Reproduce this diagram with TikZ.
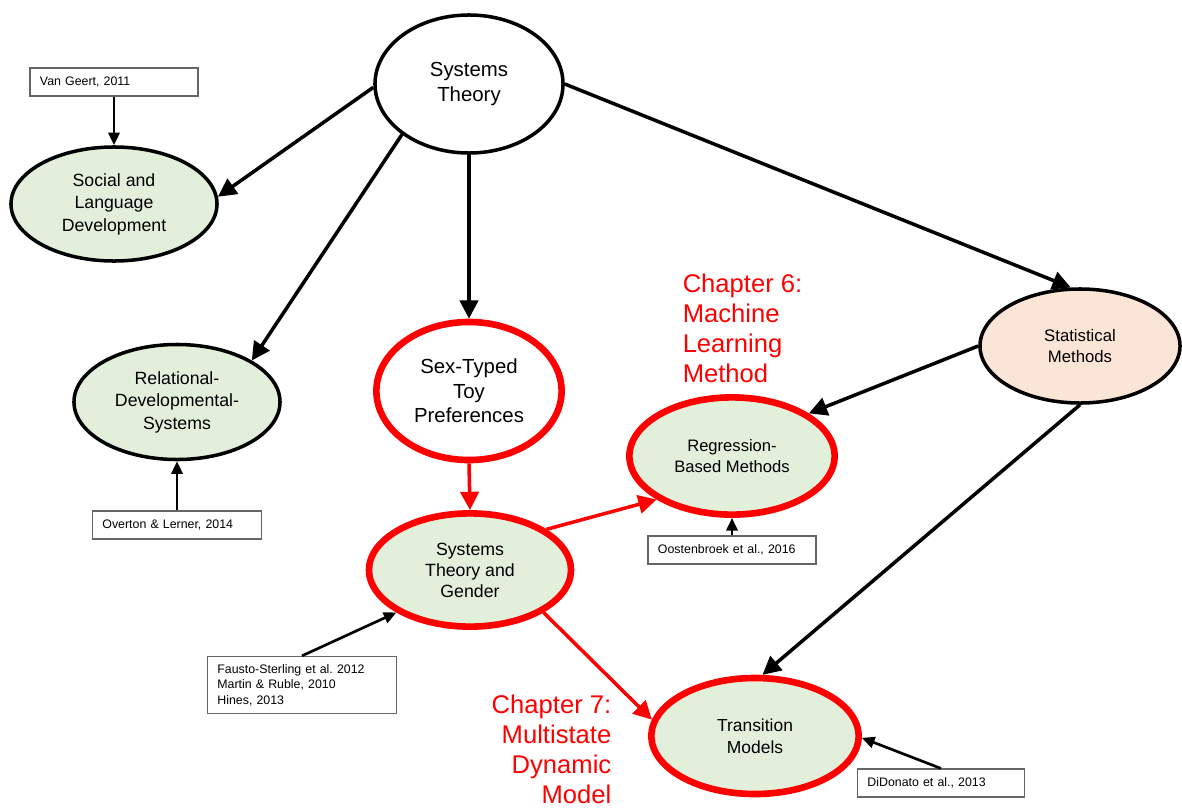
\documentclass[tikz,border=0pt]{standalone}
\usepackage{fontspec}
\setmainfont{Liberation Sans}
\usepackage{xcolor}
\usetikzlibrary{
    arrows.meta,
    shapes.geometric
}
\definecolor{topicgreen}{HTML}{E2EFDA}
\definecolor{methodpeach}{HTML}{FBE5D6}
\frenchspacing

\begin{document}
\begin{tikzpicture}[x=0.025cm,y=-0.025cm,->,>={Triangle[length=13pt,width=13pt]},line width=2.5pt]
    \tikzstyle{every node}=[align=center, inner sep=0pt]
    \tikzstyle{topic}=[ellipse, draw, line width=2.5pt, fill=topicgreen, font=\fontsize{12.6}{16}\selectfont]
    \tikzstyle{focus}=[topic, draw=red, line width=4.7pt]
    \tikzstyle{cite}=[rectangle, draw=black!60, line width=0.8pt, fill=white, inner xsep=0.25cm, minimum height=0.7cm, align=left, font=\fontsize{8.8}{11}\selectfont]
    \tikzstyle{citearrow}=[line width=1.9pt, -{Triangle[length=9pt,width=8pt]}]
    \tikzstyle{chapter}=[text=red, font=\fontsize{18.2}{21.3}\selectfont]
    \useasboundingbox (0,0) rectangle (1182,809);
    \node[topic, fill=white, minimum width=4.7cm, minimum height=3.45cm, font=\fontsize{14.5}{17.8}\selectfont] (sys) at (469,84) {Systems\\Theory};
    \node[topic, minimum width=5.15cm, minimum height=2.85cm] (social) at (114,204) {Social and\\Language\\Development};
    \node[topic, minimum width=5.15cm, minimum height=2.875cm] (rds) at (177,402) {Relational-\\Developmental-\\Systems};
    \node[focus, fill=white, minimum width=4.63cm, minimum height=3.45cm, font=\fontsize{14.5}{17.4}\selectfont] (sttp) at (469,391) {Sex-Typed\\Toy\\Preferences};
    \node[focus, minimum width=5.05cm, minimum height=2.83cm, font=\fontsize{12.6}{15}\selectfont] (stg) at (470,570) {Systems\\Theory and\\Gender};
    \node[topic, fill=methodpeach, minimum width=5cm, minimum height=2.85cm, font=\fontsize{11.9}{15}\selectfont] (stat) at (1080,346) {Statistical\\Methods};
    \node[focus, minimum width=5.13cm, minimum height=2.93cm, font=\fontsize{11.8}{14.7}\selectfont] (reg) at (732,456) {Regression-\\Based Methods};
    \node[focus, minimum width=5.18cm, minimum height=2.9cm, font=\fontsize{12.4}{15.6}\selectfont] (trans) at (755,736) {Transition\\Models};
    \node[cite, text width=3.7cm] (vg) at (114,82) {Van Geert, 2011};
    \node[cite, text width=3.73cm] (ol) at (177,525) {Overton \& Lerner, 2014};
    \node[cite, text width=4.23cm, minimum height=1.43cm] (fs) at (302,685) {Fausto-Sterling et al. 2012\\Martin \& Ruble, 2010\\Hines, 2013};
    \node[cite, text width=3.7cm] (oo) at (732,550) {Oostenbroek et al., 2016};
    \node[cite, text width=3.68cm] (dd) at (941,783) {DiDonato et al., 2013};
    \node[chapter, anchor=north west, align=left] (ch6) at (681,272) {Chapter 6:\\Machine\\Learning\\Method};
    \node[chapter, anchor=north east, align=right] (ch7) at (613,693) {Chapter 7:\\Multistate\\Dynamic\\Model};
    \path (sys.182) edge (social.4);
    \path (sys.217) edge (rds.29);
    \path (sys.south) edge (sttp.north);
    \path (sys.east) edge (stat.99);
    \path (stat.west) edge (reg.29);
    \path (stat.south) edge (trans.83);
    \path (sttp.south) edge [draw=red] (stg.north);
    \path (stg.28) edge [draw=red] (reg.210);
    \path (stg.330) edge [draw=red] (trans.171);
    \path (vg.south) edge [citearrow] (social.north);
    \path (ol.north) edge [citearrow] (rds.south);
    \path (fs.north) edge [citearrow] (stg.210);
    \path (oo.north) edge [citearrow] (reg.south);
    \path (dd.north) edge [citearrow] (trans.359);
\end{tikzpicture}
\end{document}
